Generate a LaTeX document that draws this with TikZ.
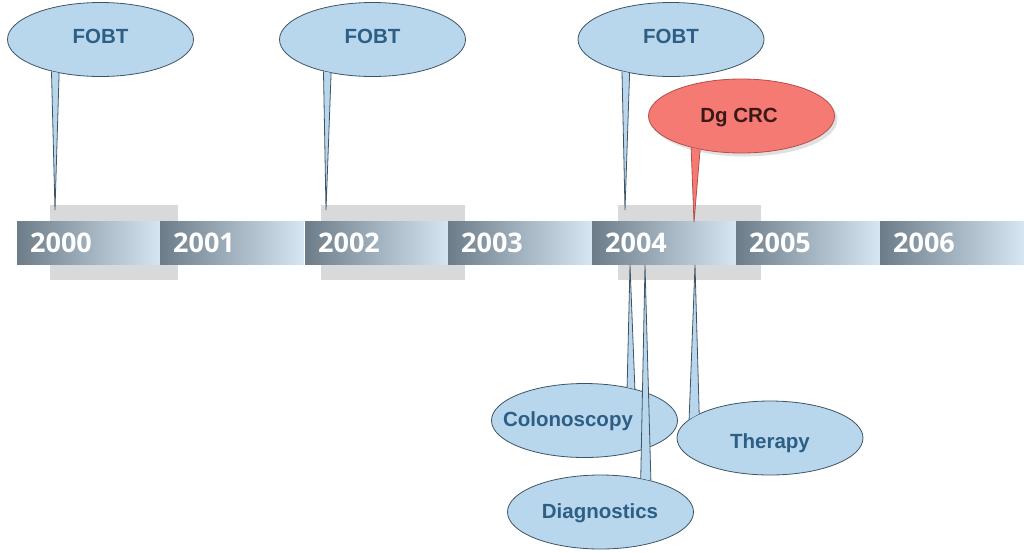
\documentclass[tikz,border=0pt]{standalone}
\usepackage{fontspec}
\setmainfont{Liberation Sans}
\newfontfamily\yearfont{Open Sans}
\usetikzlibrary{shapes.geometric,calc}
\definecolor{bubbleblue}{RGB}{185,215,236}
\definecolor{bubbleline}{RGB}{62,84,102}
\definecolor{textblue}{RGB}{44,94,134}
\definecolor{bubblered}{RGB}{245,122,115}
\definecolor{redline}{RGB}{178,80,74}
\definecolor{redtext}{RGB}{58,24,24}
\definecolor{barL}{RGB}{108,124,137}
\definecolor{barR}{RGB}{214,231,243}
\definecolor{hlgray}{RGB}{217,217,217}
\tikzset{
  hlbox/.style={fill=hlgray, draw=none},
  yearbar/.style={draw=none, left color=barL, right color=barR, minimum width=144pt, minimum height=43pt, inner sep=0pt, outer sep=0pt},
  yeartext/.style={text=white, font=\yearfont\bfseries\fontsize{27}{30}\selectfont, inner sep=0pt},
  bubble/.style={ellipse, fill=bubbleblue, draw=bubbleline, line width=0.8pt, minimum width=186pt, minimum height=74pt, inner sep=0pt},
  redbubble/.style={bubble, fill=bubblered, draw=redline},
  tailblue/.style={fill=bubbleblue, draw=bubbleline, line width=0.8pt, line join=miter},
  tailred/.style={fill=bubblered, draw=redline, line width=0.8pt},
  btext/.style={text=textblue, font=\bfseries\fontsize{20.5}{24}\selectfont, inner sep=0pt, anchor=base},
  rtext/.style={btext, text=redtext}
}
\begin{document}
\begin{tikzpicture}[x=1pt,y=-1pt]
\useasboundingbox (0,0) rectangle (1024,552);
% highlight boxes
\fill[hlbox] (50,205) rectangle (178,280);
\fill[hlbox] (321,205) rectangle (465,280);
\fill[hlbox] (618,205) rectangle (761,280);
% year bars
\foreach \x/\yr in {17/2000,160/2001,305/2002,448/2003,592/2004,736/2005,880/2006}{
  \node[yearbar, anchor=north west] (y\yr) at (\x,221) {};
  \node[yeartext, anchor=base west] (y\yr t) at ($(y\yr.south west)+(13,-12)$) {\yr};
}
% tip coordinates
\coordinate (tipA) at (55,210);
\coordinate (tipB) at (326,210);
\coordinate (tipC) at (625,210);
\coordinate (tipD) at (694,222);
\coordinate (tipE) at (630,265);
\coordinate (tipF) at (645,265);
\coordinate (tipG) at (695,265);
% FOBT callouts
\node[bubble] (fobt1) at (100.5,39.5) {};
\filldraw[tailblue] (fobt1.-147) -- (tipA) -- (fobt1.-141);
\node[btext] (fobt1t) at (100.5,43) {FOBT};
\node[bubble] (fobt2) at (372.5,39.5) {};
\filldraw[tailblue] (fobt2.-147) -- (tipB) -- (fobt2.-141);
\node[btext] (fobt2t) at (372.5,43) {FOBT};
\node[bubble] (fobt3) at (671,39.5) {};
\filldraw[tailblue] (fobt3.-147) -- (tipC) -- (fobt3.-141);
\node[btext] (fobt3t) at (671,43) {FOBT};
% Dg CRC
\fill[black, opacity=0.12] (744.5,119.5) ellipse (93pt and 37pt);
\node[redbubble] (dg) at (741.5,116) {};
\filldraw[tailred] (dg.-148) -- (tipD) -- (dg.-141);
\node[rtext] (dgt) at (739,122) {Dg CRC};
% lower callouts
\node[bubble] (colo) at (584.5,420.5) {};
\filldraw[tailblue] (colo.38) -- (tipE) -- (colo.32);
\node[btext] (colot) at (568,426) {Colonoscopy};
\node[bubble] (diag) at (600.5,512) {};
\filldraw[tailblue] (diag.40) -- (tipF) -- (diag.32);
\node[btext] (diagt) at (600,518) {Diagnostics};
\node[bubble] (ther) at (770,438) {};
\filldraw[tailblue] (ther.167) -- (tipG) -- (ther.161);
\node[btext] (thert) at (770,448) {Therapy};
\end{tikzpicture}
\end{document}
